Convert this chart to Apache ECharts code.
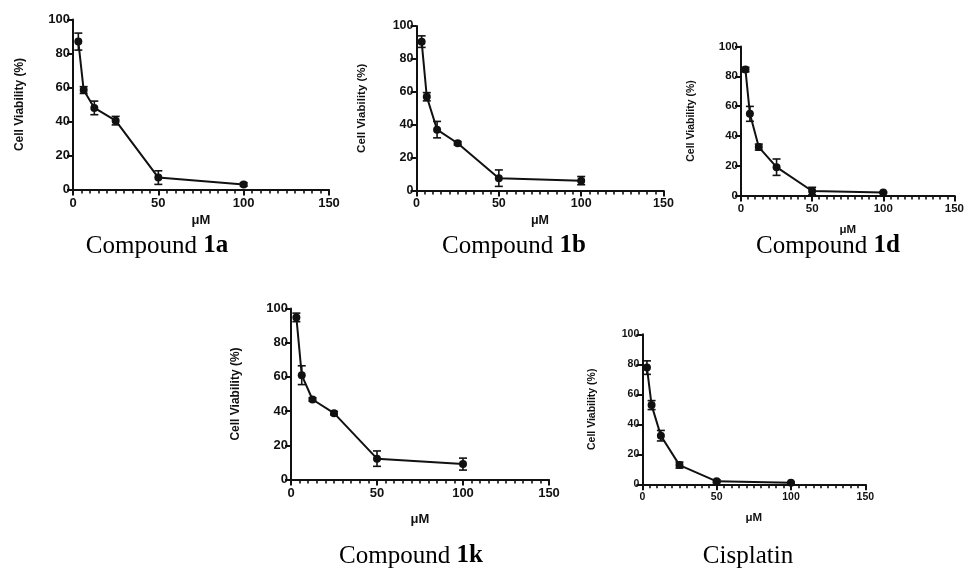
<!DOCTYPE html>
<html>
<head>
<meta charset="utf-8">
<script src="https://cdn.jsdelivr.net/npm/echarts@6/dist/echarts.min.js"></script>
<style>
html, body { margin: 0; padding: 0; background: #fff; }
#main { width: 967px; height: 570px; }
</style>
</head>
<body>
<div id="main"></div>
<script>
// doses (uM), same for all panels
var doses = [3.125, 6.25, 12.5, 25, 50, 100];
var xTicks = [0, 50, 100, 150];
var yTicks = [0, 20, 40, 60, 80, 100];

// mean cell viability (%) and error
var mean1a = [87, 58.5, 48, 40.5, 7, 3];
var err1a = [5, 2, 4, 2.5, 4, 1];
var mean1b = [90.5, 57, 37, 28.7, 7.5, 6];
var err1b = [3.5, 2.5, 5, 1, 5, 2.5];
var mean1d = [84.5, 54.8, 32.5, 19, 3, 2];
var err1d = [1.5, 5, 2, 5.5, 2.5, 0.5];
var mean1k = [94.8, 61, 46.8, 38.8, 12.2, 9];
var err1k = [2.5, 5.5, 1, 1, 4.5, 3.5];
var meanCis = [77.8, 52.8, 32.4, 12.8, 2, 1];
var errCis = [4.5, 3, 3.5, 2, 1, 0.5];

var panelNames = ['1a', '1b', '1d', '1k', 'Cisplatin'];
var panelMeans = [mean1a, mean1b, mean1d, mean1k, meanCis];
var panelErrs = [err1a, err1b, err1d, err1k, errCis];

// layout of each panel: [left, top, width, height, tickFont, nameFont, yNameGap, xNameGap]
var panels = [
	[73, 19.5, 256, 170, 13, 12, 47, 24],
	[416.5, 26, 247, 164.5, 12.5, 11.5, 49, 24],
	[741, 46.5, 224, 149, 11.5, 10.5, 44, 28],
	[291, 308.5, 258, 171, 13, 12, 49, 33],
	[642.3, 334.3, 223, 150, 10.5, 10.5, 45, 28]
];
var captionPos = [[157, 246], [514, 246], [828, 246], [411, 556], [748, 556]];

var ink = '#111';
var myChart = echarts.init(document.getElementById('main'));

var renderErr = function(params, api) {
	var x = api.value(0), m = api.value(1), e = api.value(2);
	var top = api.coord([x, m + e]);
	var bot = api.coord([x, m - e]);
	var w = 4;
	var st = { stroke: ink, lineWidth: 1.6 };
	return {
		type : 'group',
		children : [
			{ type : 'line', shape : { x1 : top[0], y1 : top[1], x2 : bot[0], y2 : bot[1] }, style : st },
			{ type : 'line', shape : { x1 : top[0] - w, y1 : top[1], x2 : top[0] + w, y2 : top[1] }, style : st },
			{ type : 'line', shape : { x1 : bot[0] - w, y1 : bot[1], x2 : bot[0] + w, y2 : bot[1] }, style : st }
		]
	};
};

var grids = [], xAxes = [], yAxes = [], series = [], graphics = [];
for (var i = 0; i < panels.length; i++) {
	var p = panels[i];
	grids.push({ left : p[0], top : p[1], width : p[2], height : p[3], containLabel : false });
	xAxes.push({
		gridIndex : i,
		type : 'value',
		min : xTicks[0],
		max : xTicks[xTicks.length - 1],
		interval : 50,
		name : 'μM',
		nameLocation : 'middle',
		nameGap : p[7],
		nameTextStyle : { fontFamily : 'Liberation Sans', fontWeight : 'bold', fontSize : p[5] + 1, color : ink },
		axisLine : { lineStyle : { color : ink, width : 2 } },
		axisTick : { length : 6, lineStyle : { color : ink, width : 2 } },
		minorTick : { show : true, splitNumber : 10, length : 4, lineStyle : { color : ink, width : 1.6 } },
		axisLabel : { margin : 7, fontFamily : 'Liberation Sans', fontWeight : 'bold', fontSize : p[4], color : ink, showMaxLabel : true },
		splitLine : { show : false }
	});
	yAxes.push({
		gridIndex : i,
		type : 'value',
		min : yTicks[0],
		max : yTicks[yTicks.length - 1],
		interval : 20,
		name : 'Cell Viability (%)',
		nameLocation : 'middle',
		nameGap : p[6],
		nameTextStyle : { fontFamily : 'Liberation Sans', fontWeight : 'bold', fontSize : p[5], color : ink },
		axisLine : { show : true, lineStyle : { color : ink, width : 2 } },
		axisTick : { show : true, length : 6, lineStyle : { color : ink, width : 2 } },
		axisLabel : { margin : 3, fontFamily : 'Liberation Sans', fontWeight : 'bold', fontSize : p[4], color : ink },
		splitLine : { show : false }
	});
	var lineData = [], errData = [];
	for (var j = 0; j < doses.length; j++) {
		lineData.push([doses[j], panelMeans[i][j]]);
		errData.push([doses[j], panelMeans[i][j], panelErrs[i][j]]);
	}
	series.push({
		type : 'custom',
		xAxisIndex : i,
		yAxisIndex : i,
		clip : false,
		renderItem : renderErr,
		encode : { x : 0, y : 1 },
		data : errData,
		z : 3
	});
	series.push({
		name : panelNames[i],
		type : 'line',
		xAxisIndex : i,
		yAxisIndex : i,
		symbol : 'circle',
		symbolSize : 8,
		itemStyle : { color : ink },
		lineStyle : { color : ink, width : 2 },
		data : lineData,
		z : 4
	});
	var txt = panelNames[i] == 'Cisplatin' ? '{n|Cisplatin}' : '{n|Compound }{b|' + panelNames[i] + '}';
	graphics.push({
		type : 'text',
		x : captionPos[i][0],
		y : captionPos[i][1],
		style : {
			text : txt,
			align : 'center',
			verticalAlign : 'middle',
			fill : '#000',
			rich : {
				n : { fontFamily : 'Liberation Serif', fontSize : 25, fill : '#000' },
				b : { fontFamily : 'Liberation Serif', fontSize : 25, fontWeight : 'bold', fill : '#000' }
			}
		}
	});
}

option = {
	backgroundColor : '#ffffff',
	animation : false,
	grid : grids,
	xAxis : xAxes,
	yAxis : yAxes,
	series : series,
	graphic : graphics
};
myChart.setOption(option);
</script>
</body>
</html>
